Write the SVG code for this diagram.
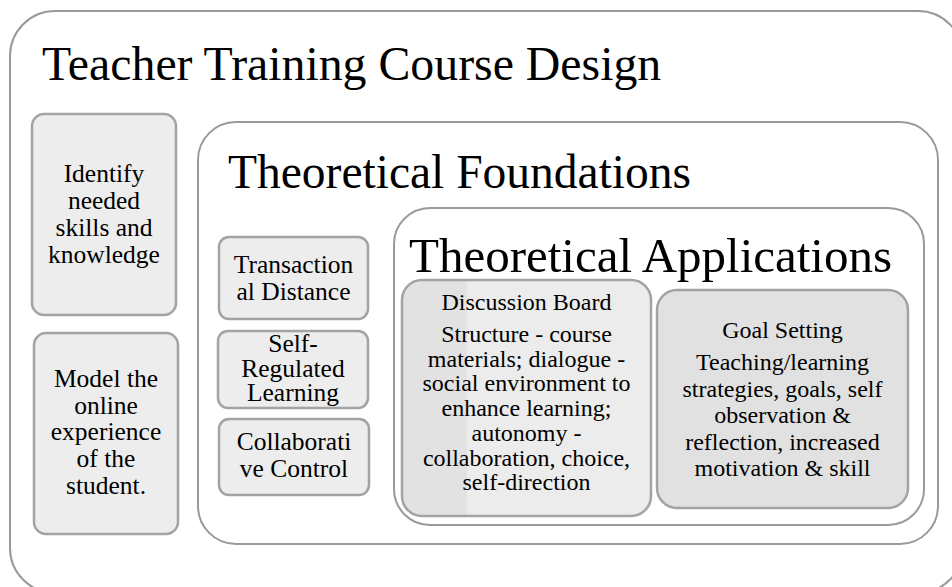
<svg xmlns="http://www.w3.org/2000/svg" width="952" height="587" viewBox="0 0 952 587">
<style>
.frame{fill:#ffffff;stroke:#9a9a9a;stroke-width:2}
.box{fill:#ededed;stroke:#a3a3a3;stroke-width:2.5}
text{font-family:'Liberation Serif','Times New Roman',Tinos,'DejaVu Serif',serif;fill:#000000}
.t{text-anchor:middle}
.s26{font-size:25.5px}
.s24{font-size:24px}
</style>
<defs>
<linearGradient id="dbfill" x1="0" y1="0" x2="1" y2="0">
<stop offset="0" stop-color="#e2e2e2"/>
<stop offset="0.26" stop-color="#e2e2e2"/>
<stop offset="0.26" stop-color="#ececec"/>
<stop offset="1" stop-color="#ececec"/>
</linearGradient>
</defs>
<rect width="952" height="587" fill="#ffffff"/>
<g id="course">
<rect class="frame" x="10" y="11" width="953" height="582" rx="45"/>
<text x="42" y="80" font-size="47.8">Teacher Training Course Design</text>
</g>
<g id="identify">
<rect class="box" x="32" y="114" width="144" height="201" rx="12"/>
<text class="t s26"><tspan x="104" y="182">Identify</tspan><tspan x="104" y="209">needed</tspan><tspan x="104" y="236">skills and</tspan><tspan x="104" y="263">knowledge</tspan></text>
</g>
<g id="model">
<rect class="box" x="34" y="333" width="144" height="201" rx="12"/>
<text class="t s26"><tspan x="106" y="387">Model the</tspan><tspan x="106" y="413.5">online</tspan><tspan x="106" y="440">experience</tspan><tspan x="106" y="467">of the</tspan><tspan x="106" y="494">student.</tspan></text>
</g>
<g id="foundations">
<rect class="frame" x="198" y="122" width="740" height="422" rx="38"/>
<text x="228" y="188" font-size="47.5">Theoretical Foundations</text>
</g>
<g id="transactional">
<rect class="box" x="219" y="237" width="149" height="82" rx="10"/>
<text class="t s26"><tspan x="293.5" y="273">Transaction</tspan><tspan x="293.5" y="300">al Distance</tspan></text>
</g>
<g id="selfregulated">
<rect class="box" x="218" y="331" width="150" height="77" rx="10"/>
<text class="t s26"><tspan x="293" y="352">Self-</tspan><tspan x="293" y="376.5">Regulated</tspan><tspan x="293" y="401">Learning</tspan></text>
</g>
<g id="collaborative">
<rect class="box" x="219" y="419" width="150" height="76" rx="10"/>
<text class="t s26"><tspan x="294" y="450">Collaborati</tspan><tspan x="294" y="477">ve Control</tspan></text>
</g>
<g id="applications">
<rect class="frame" x="394" y="208" width="530" height="317" rx="36"/>
<text x="409" y="272" font-size="49">Theoretical Applications</text>
</g>
<g id="discussion">
<rect x="402" y="280" width="249" height="236" rx="20" fill="url(#dbfill)" stroke="#a3a3a3" stroke-width="2.5"/>
<text class="t s24"><tspan x="526.5" y="310">Discussion Board</tspan><tspan x="526.5" y="342">Structure - course</tspan><tspan x="526.5" y="366.7">materials; dialogue -</tspan><tspan x="526.5" y="391.4">social environment to</tspan><tspan x="526.5" y="416">enhance learning;</tspan><tspan x="526.5" y="440.8">autonomy -</tspan><tspan x="526.5" y="465.5">collaboration, choice,</tspan><tspan x="526.5" y="490.2">self-direction</tspan></text>
</g>
<g id="goal">
<rect x="657" y="290" width="251" height="218" rx="20" fill="#e1e1e1" stroke="#a3a3a3" stroke-width="2.5"/>
<text class="t s24"><tspan x="782.5" y="338">Goal Setting</tspan><tspan x="782.5" y="370">Teaching/learning</tspan><tspan x="782.5" y="396.5">strategies, goals, self</tspan><tspan x="782.5" y="423">observation &amp;</tspan><tspan x="782.5" y="449.5">reflection, increased</tspan><tspan x="782.5" y="476">motivation &amp; skill</tspan></text>
</g>
<g id="connectors"></g>
</svg>
